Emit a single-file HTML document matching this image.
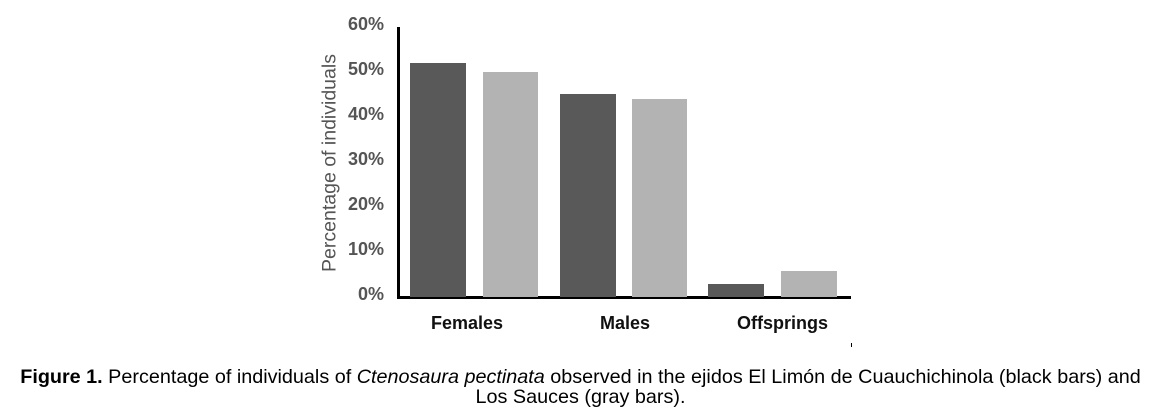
<!DOCTYPE html>
<html><head><style>
body{margin:0;width:1161px;height:417px;background:#fff;overflow:hidden;position:relative;font-family:"Liberation Sans",Arial,sans-serif}
.t{position:absolute;font-weight:bold;color:#555;font-size:18px;text-align:right;width:62px}
.c{position:absolute;font-weight:bold;color:#111;font-size:18px}
.b{position:absolute}
.d{background:#595959}.g{background:#b3b3b3}
.cap{position:absolute;left:0;width:1161px;text-align:center;font-size:19.8px;color:#000;line-height:20px}
</style></head><body>
<div class="b" style="left:397px;top:27px;width:3px;height:272px;background:#000"></div>
<div class="b" style="left:397px;top:296px;width:454px;height:3px;background:#000"></div>
<div class="t" style="left:322px;top:14px">60%</div>
<div class="t" style="left:322px;top:59px">50%</div>
<div class="t" style="left:322px;top:104px">40%</div>
<div class="t" style="left:322px;top:149px">30%</div>
<div class="t" style="left:322px;top:194px">20%</div>
<div class="t" style="left:322px;top:239px">10%</div>
<div class="t" style="left:322px;top:284px">0%</div>
<div style="position:absolute;left:330px;top:163px;transform:translate(-50%,-50%) rotate(-90deg);white-space:nowrap;font-size:19.5px;color:#555">Percentage of individuals</div>
<div class="b d" style="left:410px;top:63px;width:56px;height:234px"></div>
<div class="b g" style="left:483px;top:72px;width:55px;height:225px"></div>
<div class="b d" style="left:560px;top:94px;width:56px;height:203px"></div>
<div class="b g" style="left:632px;top:99px;width:55px;height:198px"></div>
<div class="b d" style="left:708px;top:284px;width:56px;height:13px"></div>
<div class="b g" style="left:781px;top:271px;width:56px;height:26px"></div>
<div class="c" style="left:431px;top:313px">Females</div>
<div class="c" style="left:600px;top:313px">Males</div>
<div class="c" style="left:737px;top:313px">Offsprings</div>
<div class="b" style="left:851px;top:343px;width:1px;height:4px;background:#000"></div>
<div class="cap" style="top:367px"><b>Figure 1.</b> Percentage of individuals of <i>Ctenosaura pectinata</i> observed in the ejidos El Limón de Cuauchichinola (black bars) and</div>
<div class="cap" style="top:387px">Los Sauces (gray bars).</div>
</body></html>
